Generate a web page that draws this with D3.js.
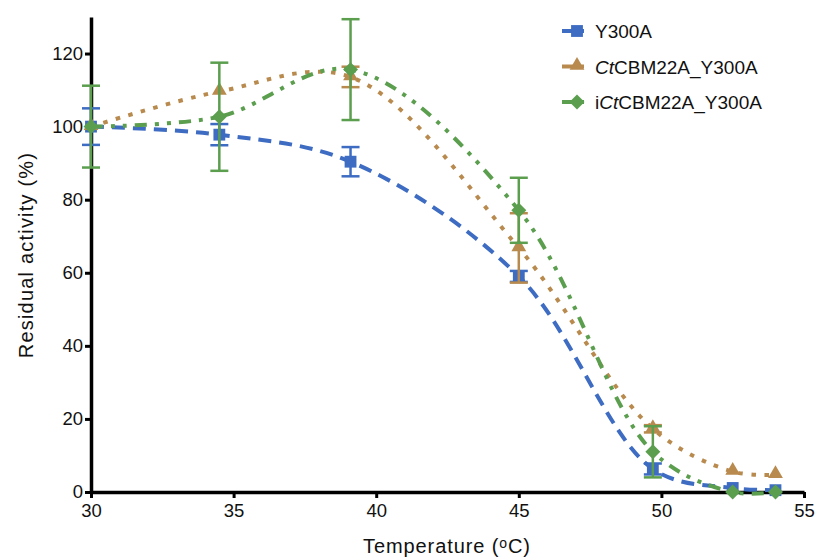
<!DOCTYPE html>
<html>
<head>
<meta charset="utf-8">
<script src="https://cdn.jsdelivr.net/npm/d3@7"></script>
<style>
  body { margin: 0; background: #fff; }
  svg { font-family: "Liberation Sans", Arial, Helvetica, sans-serif; }
</style>
</head>
<body>
<svg id="drawing_region"></svg>
<script>
// temperatures (oC) measured
const temps = [30, 34.5, 39.1, 45, 49.7, 52.5, 54];

// residual activity (%) and error per construct
const y300a      = [100, 97.8, 90.4, 59, 6.3, 1.1, 0.5];
const y300aErr   = [5, 2.9, 4, 1.5, 1.5, 0.5, 0.5];
const ctcbm      = [100, 109.6, 113.6, 66.8, 17.3, 5.6, 4.7];
const ctcbmErr   = [0, 0, 2.8, 9.5, 1, 0.5, 0.5];
const ictcbm     = [100, 102.7, 115.6, 77.1, 11, 0, 0];
const ictcbmErr  = [11.2, 14.8, 13.8, 8.9, 7, 0, 0];

const xTicks = [30, 35, 40, 45, 50, 55];
const yTicks = [0, 20, 40, 60, 80, 100, 120];

const config = {
    width: 815,
    height: 559,
    margin: {top:17, right:11, bottom:67, left:91}
};

const series = [
    {name: [["Y300A", false]], values: y300a, err: y300aErr, color: "#3d6cc2",
     dash: "13,8", symbol: "square"},
    {name: [["Ct", true], ["CBM22A_Y300A", false]], values: ctcbm, err: ctcbmErr, color: "#b88a4e",
     dash: "4.5,8.5", symbol: "triangle"},
    {name: [["i", false], ["Ct", true], ["CBM22A_Y300A", false]], values: ictcbm, err: ictcbmErr, color: "#5a9e4e",
     dash: "12,8,4,8,4,8", symbol: "diamond"}
];

const svg = d3.select('#drawing_region')
    .attr('width', config.width)
    .attr('height', config.height);

const inner_width = config.width - config.margin.left - config.margin.right;
const inner_height = config.height - config.margin.top - config.margin.bottom;

const chart = svg.append('g')
    .attr('transform', `translate(${config.margin.left}, ${config.margin.top})`);

const xscale = d3.scaleLinear().domain([30, 55]).range([0, inner_width]);
const yscale = d3.scaleLinear().domain([0, 130]).range([inner_height, 0]);

// axes
const xaxis_group = chart.append('g')
    .attr('transform', `translate(0, ${inner_height})`)
    .call(d3.axisBottom(xscale).tickValues(xTicks).tickSize(6).tickSizeOuter(0).tickPadding(6));

const yaxis_group = chart.append('g')
    .call(d3.axisLeft(yscale).tickValues(yTicks).tickSize(6).tickSizeOuter(0).tickPadding(2));

[xaxis_group, yaxis_group].forEach(g => {
    g.select('.domain').attr('stroke', '#000').attr('stroke-width', 3.5);
    g.selectAll('.tick line').attr('stroke', '#000').attr('stroke-width', 3);
    g.selectAll('.tick text').attr('fill', '#111').style('font-size', '18.5px')
        .style('font-family', '"Liberation Sans", Arial, sans-serif');
});

// axis titles
svg.append('text')
    .attr('x', 447).attr('y', 553)
    .attr('text-anchor', 'middle')
    .style('font-size', '20px')
    .style('letter-spacing', '0.9px')
    .attr('fill', '#111')
    .call(t => {
        t.append('tspan').text('Temperature (');
        t.append('tspan').attr('baseline-shift', '38%').style('font-size', '14px').text('o');
        t.append('tspan').text('C)');
    });

svg.append('text')
    .attr('transform', 'translate(33, 255) rotate(-90)')
    .attr('text-anchor', 'middle')
    .style('font-size', '20px')
    .style('letter-spacing', '1.2px')
    .attr('fill', '#111')
    .text('Residual activity (%)');

function symbolPath(kind) {
    if (kind === 'square') return d3.symbol(d3.symbolSquare, 140)();
    if (kind === 'triangle') return d3.symbol(d3.symbolTriangle, 95)();
    return d3.symbol(d3.symbolSquare, 112)();
}
function symbolTransform(kind, x, y) {
    if (kind === 'diamond') return `translate(${x},${y}) rotate(45)`;
    if (kind === 'triangle') return `translate(${x},${y - 1})`;
    return `translate(${x},${y})`;
}

const line = d3.line()
    .x(d => xscale(d[0]))
    .y(d => yscale(d[1]))
    .curve(d3.curveCatmullRom.alpha(0.5));

series.forEach(s => {
    const pts = temps.map((t, i) => [t, s.values[i], s.err[i]]);
    const g = chart.append('g');

    g.append('path')
        .datum(pts)
        .attr('d', line)
        .attr('fill', 'none')
        .attr('stroke', s.color)
        .attr('stroke-width', 4)
        .attr('stroke-dasharray', s.dash);

    const bars = g.selectAll('.err')
        .data(pts.filter(d => d[2] > 0.8))
        .enter().append('g');
    bars.append('line')
        .attr('x1', d => xscale(d[0])).attr('x2', d => xscale(d[0]))
        .attr('y1', d => yscale(d[1] - d[2])).attr('y2', d => yscale(d[1] + d[2]))
        .attr('stroke', s.color).attr('stroke-width', 2.5);
    [-1, 1].forEach(sign => {
        bars.append('line')
            .attr('x1', d => xscale(d[0]) - 9).attr('x2', d => xscale(d[0]) + 9)
            .attr('y1', d => yscale(d[1] + sign * d[2])).attr('y2', d => yscale(d[1] + sign * d[2]))
            .attr('stroke', s.color).attr('stroke-width', 2.5);
    });

    g.selectAll('.mark')
        .data(pts)
        .enter().append('path')
        .attr('d', symbolPath(s.symbol))
        .attr('transform', d => symbolTransform(s.symbol, xscale(d[0]), yscale(d[1])))
        .attr('fill', s.color);
});

// legend
const legend = svg.append('g');
series.forEach((s, i) => {
    const y = 31 + i * 35.5;
    legend.append('line')
        .attr('x1', 562).attr('x2', 584)
        .attr('y1', y).attr('y2', y)
        .attr('stroke', s.color).attr('stroke-width', 4);
    legend.append('path')
        .attr('d', symbolPath(s.symbol))
        .attr('transform', symbolTransform(s.symbol, 577, y))
        .attr('fill', s.color);
    const txt = legend.append('text')
        .attr('x', 595).attr('y', y + 7)
        .style('font-size', '19px')
        .attr('fill', '#111');
    s.name.forEach(part => {
        txt.append('tspan').style('font-style', part[1] ? 'italic' : 'normal').text(part[0]);
    });
});
</script>
</body>
</html>
